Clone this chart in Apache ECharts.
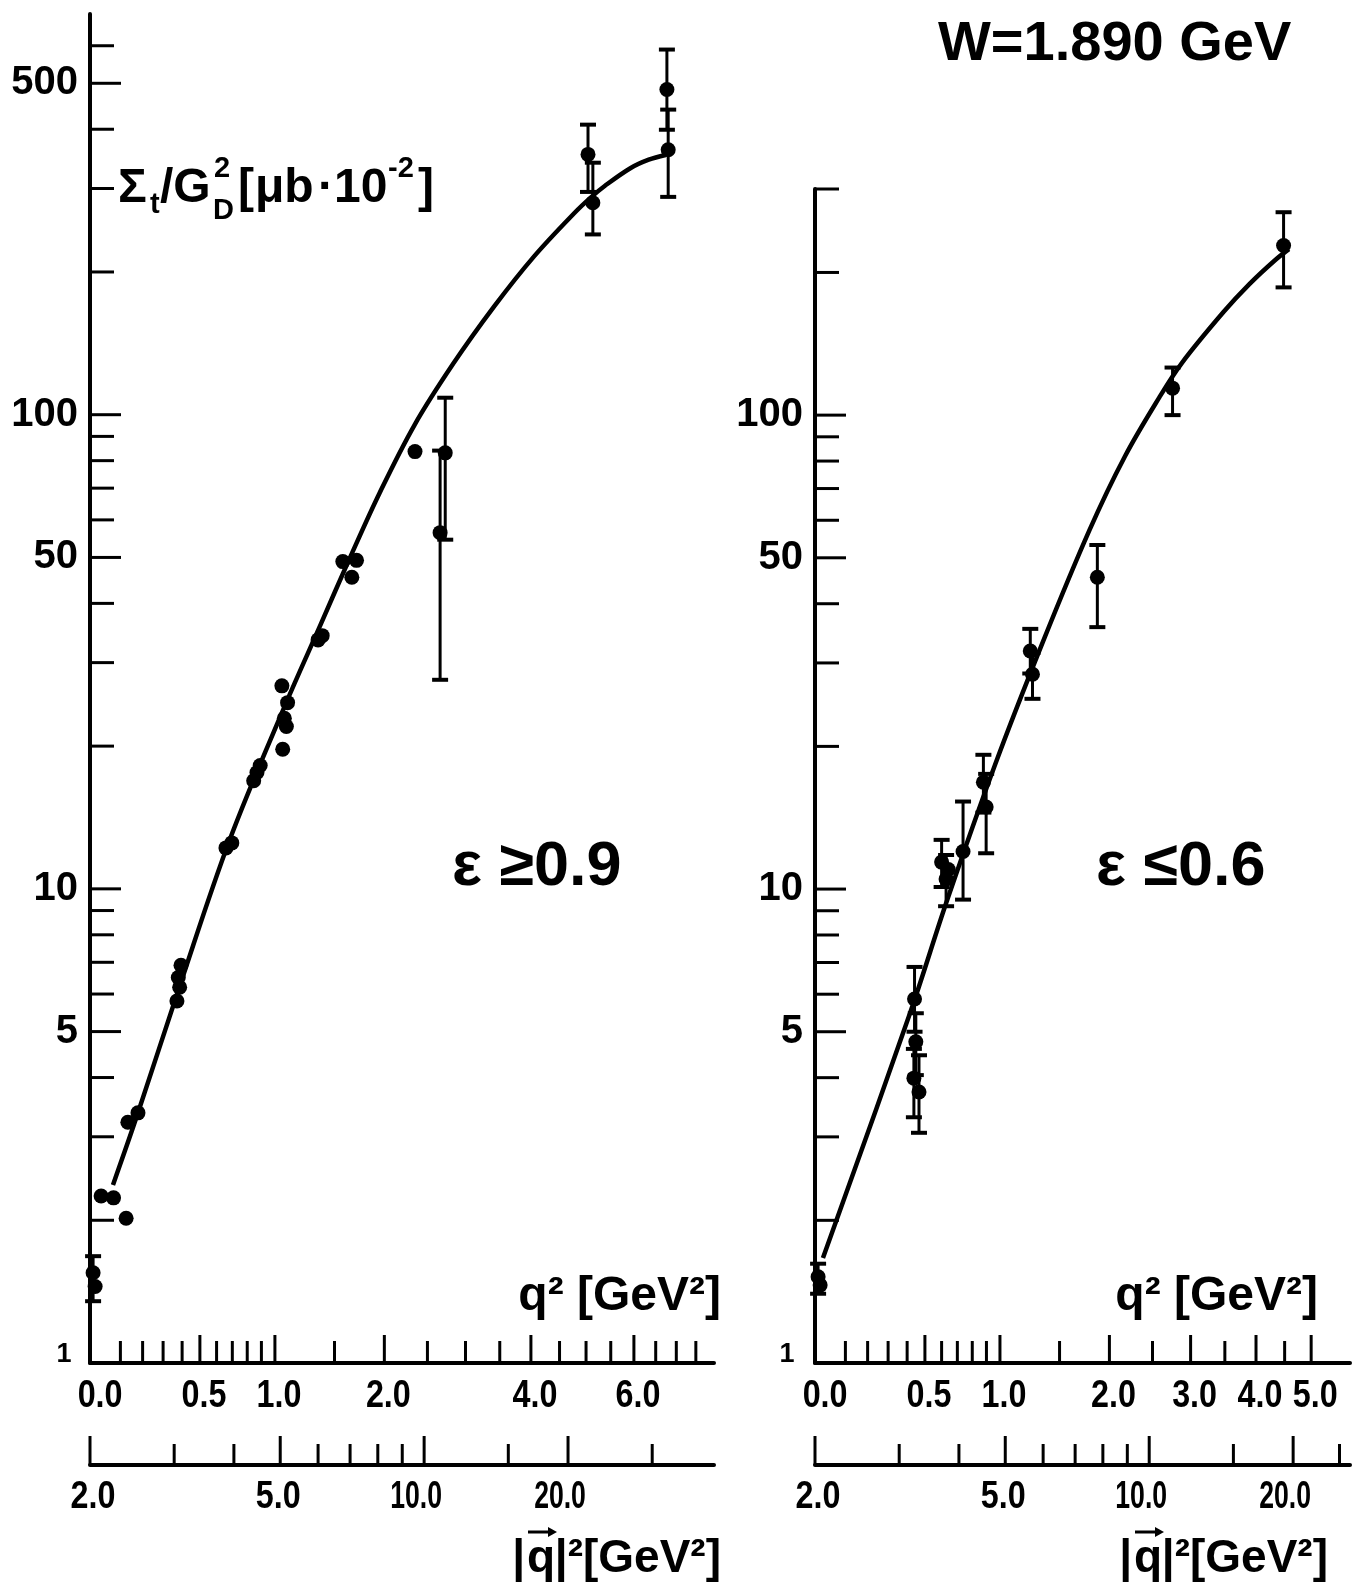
<!DOCTYPE html>
<html>
<head>
<meta charset="utf-8">
<title>Sigma_t / G_D^2, W = 1.890 GeV</title>
<script src="https://cdn.jsdelivr.net/npm/echarts@6/dist/echarts.min.js"></script>
<style>
  html, body { margin: 0; padding: 0; background: #fff; }
  #chart { width: 1364px; height: 1582px; }
</style>
</head>
<body>
<div id="chart"></div>
<script>
// kinematics used to put the q^2 scale onto the |q|^2 (log) axis
const W = 1.89, MP = 0.938
function qvecSq(q2) {
  const nu = (W * W - MP * MP + q2) / (2 * MP)
  return q2 + nu * nu
}

// ---------- left panel: eps >= 0.9  (x = |q|^2 [GeV^2], y = Sigma_t/G_D^2) ----------
const leftX = [2.03, 2.05, 2.11, 2.24, 2.38, 2.40, 2.52, 3.04, 3.06, 3.08, 3.10, 3.85, 3.96,
  4.40, 4.47, 4.54, 5.04, 5.06, 5.10, 5.15, 5.18, 6.00, 6.12, 6.76, 7.06, 7.22, 9.57,
  10.8, 11.07, 22.02, 22.54, 32.2, 32.4]
const leftY = [1.55, 1.45, 2.25, 2.23, 2.02, 3.22, 3.37, 5.8, 6.5, 6.2, 6.9, 12.2, 12.5,
  16.9, 17.6, 18.2, 26.8, 19.7, 22.9, 22.0, 24.7, 33.5, 34.2, 49.0, 45.4, 49.3, 83.6,
  56.4, 83.1, 354, 280, 485, 362]
const leftBarX = [2.03, 10.8, 11.07, 22.02, 22.54, 32.2, 32.4]
const leftBarLo = [1.35, 27.6, 54.5, 295, 240, 399, 288]
const leftBarHi = [1.68, 84, 108.6, 409, 340, 589, 440]
const leftCurveX = [2.234, 2.52, 3.086, 3.92, 5.12, 6.06, 7.0, 8.07, 9.54, 11.5, 14.0, 17.0, 20.6, 22.3, 23.9, 27.0, 29.5, 32.0]
const leftCurveY = [2.375, 3.37, 6.27, 12.69, 24.4, 35.9, 50.0, 68.4, 95, 128, 169, 216, 266, 287, 304, 331, 345, 353]

// ---------- right panel: eps <= 0.6 ----------
const rightX = [2.03, 2.05, 3.22, 3.23, 3.25, 3.30, 3.68, 3.76, 3.80, 4.08, 4.50, 4.56, 5.64, 5.70, 7.79, 11.19, 19.1]
const rightY = [1.52, 1.46, 3.99, 5.86, 4.76, 3.73, 11.4, 10.5, 11.0, 12.0, 16.8, 14.9, 31.8, 28.4, 45.5, 114, 228]
const rightBarX = [2.03, 3.22, 3.23, 3.25, 3.30, 3.68, 3.76, 4.08, 4.50, 4.56, 5.64, 5.70, 7.79, 11.19, 19.1]
const rightBarLo = [1.40, 3.3, 5.0, 4.05, 3.06, 10.1, 9.2, 9.5, 14.5, 11.9, 28.5, 25.2, 35.7, 100, 186]
const rightBarHi = [1.62, 4.6, 6.85, 5.47, 4.46, 12.7, 11.8, 15.3, 19.2, 17.5, 35.4, 31.5, 53.2, 126, 268]
const rightCurveX = [2.078, 3.16, 3.78, 4.76, 5.99, 7.50, 8.9, 10.5, 11.7, 14.3, 16.2, 18.3, 19.6]
const rightCurveY = [1.665, 5.47, 9.48, 18.3, 33.2, 57.2, 81.9, 109, 128.8, 165, 189, 212, 224]

// ---------- ticks ----------
const leftYTicks = [1, 2, 3, 4, 5, 6, 7, 8, 9, 10, 20, 30, 40, 50, 60, 70, 80, 90, 100, 200, 300, 400, 500, 600]
const rightYTicks = [1, 2, 3, 4, 5, 6, 7, 8, 9, 10, 20, 30, 40, 50, 60, 70, 80, 90, 100, 200, 300]
const yLabelValues = [1, 5, 10, 50, 100, 500]
const leftQ2Ticks = [0, 0.1, 0.2, 0.3, 0.4, 0.5, 0.6, 0.7, 0.8, 0.9, 1.0, 1.5, 2.0, 2.5, 3.0, 3.5, 4.0, 4.5, 5.0, 5.5, 6.0, 6.5, 7.0, 7.5]
const leftQ2Labels = [0, 0.5, 1.0, 2.0, 4.0, 6.0]
const rightQ2Ticks = [0, 0.1, 0.2, 0.3, 0.4, 0.5, 0.6, 0.7, 0.8, 0.9, 1.0, 1.5, 2.0, 2.5, 3.0, 3.5, 4.0, 4.5, 5.0]
const rightQ2Labels = [0, 0.5, 1.0, 2.0, 3.0, 4.0, 5.0]
const leftQvTicks = [2, 3, 4, 5, 6, 7, 8, 9, 10, 15, 20, 30]
const rightQvTicks = [2, 3, 4, 5, 6, 7, 8, 9, 10, 15, 20, 25]
const qvLabels = [2, 5, 10, 20]

const LOWER_AXIS_OFFSET = 102
const FONT = '"Liberation Sans", "DejaVu Sans", sans-serif'

const panels = [
  { xMin: 2, xMax: 40.4, yMax: 700, grid: { left: 90, top: 14, width: 624, height: 1349 },
    x: leftX, y: leftY, barX: leftBarX, barLo: leftBarLo, barHi: leftBarHi,
    cx: leftCurveX, cy: leftCurveY, yTicks: leftYTicks, q2Ticks: leftQ2Ticks, q2Labels: leftQ2Labels,
    qvTicks: leftQvTicks, oneLabelDx: -26 },
  { xMin: 2, xMax: 26.3, yMax: 300, grid: { left: 815, top: 189, width: 535, height: 1174 },
    x: rightX, y: rightY, barX: rightBarX, barLo: rightBarLo, barHi: rightBarHi,
    cx: rightCurveX, cy: rightCurveY, yTicks: rightYTicks, q2Ticks: rightQ2Ticks, q2Labels: rightQ2Labels,
    qvTicks: rightQvTicks, oneLabelDx: -28 }
]

function line(x1, y1, x2, y2, w) {
  return { type: 'line', shape: { x1: x1, y1: y1, x2: x2, y2: y2 }, style: { stroke: '#000', lineWidth: w } }
}
function label(text, x, y, size, align, sx) {
  return {
    type: 'text', x: x, y: y, scaleX: sx || 1,
    style: { text: text, fill: '#000', font: 'bold ' + size + 'px ' + FONT, align: align, verticalAlign: 'middle' }
  }
}

function renderErrorBar(params, api) {
  const x = api.value(0)
  const lo = api.coord([x, api.value(1)])
  const hi = api.coord([x, api.value(2)])
  const cap = 8
  return {
    type: 'group',
    children: [
      line(lo[0], lo[1], hi[0], hi[1], 3),
      line(lo[0] - cap, lo[1], lo[0] + cap, lo[1], 4),
      line(hi[0] - cap, hi[1], hi[0] + cap, hi[1], 4)
    ]
  }
}

function makeYTickRenderer(p) {
  return function (params, api) {
    const v = api.value(1)
    const pt = api.coord([p.xMin, v])
    const major = yLabelValues.indexOf(v) >= 0
    const kids = []
    if (v === 1) {
      kids.push(label('1', pt[0] + p.oneLabelDx, pt[1] - 8, 27, 'center'))
    } else {
      kids.push(line(pt[0], pt[1], pt[0] + (major ? 31 : 24), pt[1], 3))
      if (major) kids.push(label(String(v), pt[0] - 12, pt[1], 40, 'right'))
    }
    return { type: 'group', children: kids }
  }
}

function makeQ2Renderer(p) {
  return function (params, api) {
    const q = api.value(2)
    const pt = api.coord([api.value(0), 1])
    const labelled = p.q2Labels.indexOf(q) >= 0
    const kids = []
    if (q > 0) kids.push(line(pt[0], pt[1], pt[0], pt[1] - (labelled ? 28 : 22), 3))
    if (labelled) kids.push(label(q.toFixed(1), pt[0] + 4, pt[1] + 34, 38, 'center', 0.85))
    return { type: 'group', children: kids }
  }
}

function makeQvRenderer(p) {
  return function (params, api) {
    const v = api.value(0)
    const pt = api.coord([v, 1])
    const y0 = pt[1] + LOWER_AXIS_OFFSET
    const labelled = qvLabels.indexOf(v) >= 0
    const kids = [line(pt[0], y0, pt[0], y0 - (labelled ? 29 : 21), 3)]
    if (labelled) {
      const txt = v.toFixed(1)
      const wide = txt.length > 3
      kids.push(label(txt, pt[0] + (wide ? -8 : (v === 2 ? 3 : -2)), y0 + 33, 38, 'center', wide ? 0.7 : 0.85))
    }
    return { type: 'group', children: kids }
  }
}

const axisLineStyle = { show: true, onZero: false, lineStyle: { color: '#000', width: 4 } }
const grids = [], xAxes = [], yAxes = [], series = []

panels.forEach(function (p, i) {
  grids.push(p.grid)
  const hiddenBits = { axisTick: { show: false }, axisLabel: { show: false }, splitLine: { show: false } }
  xAxes.push(Object.assign({ gridIndex: i, type: 'log', min: p.xMin, max: p.xMax, position: 'bottom', axisLine: axisLineStyle }, hiddenBits))
  xAxes.push(Object.assign({ gridIndex: i, type: 'log', min: p.xMin, max: p.xMax, position: 'bottom', offset: LOWER_AXIS_OFFSET, axisLine: axisLineStyle }, hiddenBits))
  yAxes.push(Object.assign({ gridIndex: i, type: 'log', min: 1, max: p.yMax, axisLine: axisLineStyle }, hiddenBits))
  const ax = { xAxisIndex: 2 * i, yAxisIndex: i }

  series.push(Object.assign({
    type: 'line', smooth: 0.35, showSymbol: false, silent: true, z: 2,
    lineStyle: { color: '#000', width: 4.5 },
    data: p.cx.map(function (x, k) { return [x, p.cy[k]] })
  }, ax))
  series.push(Object.assign({
    type: 'custom', renderItem: renderErrorBar, silent: true, z: 3, encode: { x: 0, y: [1, 2] },
    data: p.barX.map(function (x, k) { return [x, p.barLo[k], p.barHi[k]] })
  }, ax))
  series.push(Object.assign({
    type: 'scatter', symbol: 'circle', symbolSize: 15, silent: true, z: 4,
    itemStyle: { color: '#000', opacity: 1 },
    data: p.x.map(function (x, k) { return [x, p.y[k]] })
  }, ax))
  series.push(Object.assign({
    type: 'custom', renderItem: makeYTickRenderer(p), silent: true, z: 5, encode: { x: 0, y: 1 },
    data: p.yTicks.map(function (v) { return [p.xMin, v] })
  }, ax))
  series.push(Object.assign({
    type: 'custom', renderItem: makeQ2Renderer(p), silent: true, z: 5, encode: { x: 0, y: 1 },
    data: p.q2Ticks.map(function (q) { return [qvecSq(q), 1, q] })
  }, ax))
  series.push(Object.assign({
    type: 'custom', renderItem: makeQvRenderer(p), silent: true, z: 5, encode: { x: 0, y: 1 },
    data: p.qvTicks.map(function (v) { return [v, 1] })
  }, ax))
})

function gtext(text, x, y, size, align, sx) {
  return {
    type: 'text', x: x, y: y, scaleX: sx || 1, silent: true,
    style: { text: text, fill: '#000', font: 'bold ' + size + 'px ' + FONT, align: align || 'left', verticalAlign: 'middle' }
  }
}
// |q|^2 [GeV^2] title with the vector arrow over q
function qvecTitle(right, y) {
  const qx = right - 180
  return [
    gtext('|', qx - 16, y, 46, 'right'),
    gtext('q', qx, y, 46, 'center'),
    gtext('|²[GeV²]', right, y, 46, 'right'),
    { type: 'line', silent: true, shape: { x1: qx - 13, y1: y - 27, x2: qx + 12, y2: y - 27 }, style: { stroke: '#000', lineWidth: 3 } },
    { type: 'polygon', silent: true, shape: { points: [[qx + 16, y - 27], [qx + 7, y - 32], [qx + 7, y - 22]] }, style: { fill: '#000' } }
  ]
}

const graphics = [
  gtext('W=1.890 GeV', 938, 45, 56),
  gtext('ε ≥0.9', 452, 868, 63),
  gtext('ε ≤0.6', 1096, 868, 63),
  // y-axis title  Σt / G_D^2 [μb·10^-2]
  gtext('Σ', 118, 189, 48),
  gtext('t', 150, 205, 29),
  gtext('/G', 160, 189, 48),
  gtext('2', 214, 169, 29),
  gtext('D', 213, 211, 29),
  gtext('[', 238, 189, 48),
  gtext('μb', 255, 189, 48),
  gtext('·10', 318, 189, 48),
  gtext('-2', 388, 169, 29),
  gtext(']', 418, 189, 48),
  gtext('q² [GeV²]', 721, 1297, 48, 'right'),
  gtext('q² [GeV²]', 1318, 1297, 48, 'right')
].concat(qvecTitle(721, 1559), qvecTitle(1328, 1559))

const chart = echarts.init(document.getElementById('chart'), null, { renderer: 'canvas' })
chart.setOption({
  backgroundColor: '#ffffff',
  animation: false,
  grid: grids,
  xAxis: xAxes,
  yAxis: yAxes,
  series: series,
  graphic: graphics
})
</script>
</body>
</html>
